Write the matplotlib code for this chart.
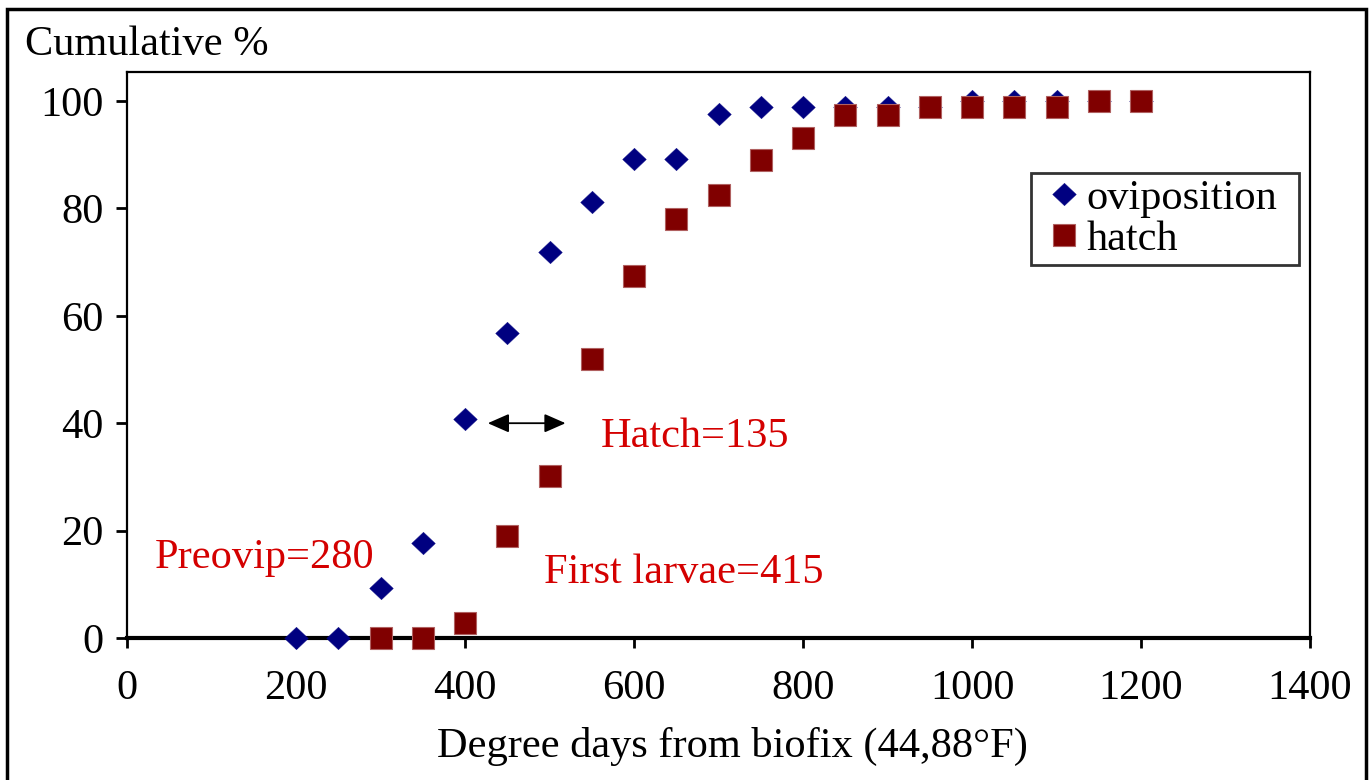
import matplotlib
matplotlib.use("Agg")
import matplotlib.pyplot as plt
from matplotlib.patches import Rectangle
from matplotlib.path import Path

plt.rcParams['font.family'] = ['Liberation Serif', 'DejaVu Serif']

# Data
ovi_x = [200, 250, 300, 350, 400, 450, 500, 550, 600, 650, 700, 750, 800, 850, 900, 950, 1000, 1050, 1100, 1150, 1200]
ovi_y = [0, 0, 9.3, 17.7, 40.8, 56.8, 71.9, 81.2, 89.2, 89.2, 97.6, 98.9, 98.9, 98.9, 98.9, 98.9, 100, 100, 100, 100, 100]
hatch_x = [300, 350, 400, 450, 500, 550, 600, 650, 700, 750, 800, 850, 900, 950, 1000, 1050, 1100, 1150, 1200]
hatch_y = [0, 0, 2.8, 19.0, 30.2, 52.0, 67.4, 78.0, 82.5, 89.0, 93.1, 97.4, 97.4, 98.9, 98.9, 98.9, 98.9, 100, 100]
series_labels = ["oviposition", "hatch"]
x_ticks = [0, 200, 400, 600, 800, 1000, 1200, 1400]
y_ticks = [0, 20, 40, 60, 80, 100]
x_label = "Degree days from biofix (44,88°F)"
y_label = "Cumulative %"
notes = ["Preovip=280", "First larvae=415", "Hatch=135"]

W, H = 1371, 780
FS = 30.5
fig = plt.figure(figsize=(W / 100, H / 100), dpi=100)
ax = fig.add_axes([127 / W, 1 - 638 / H, (1310 - 127) / W, (638 - 72) / H])

navy = '#000080'
maroon = '#800000'
red = '#d40000'

diamond = Path([(0, 0.95), (1, 0), (0, -0.95), (-1, 0), (0, 0.95)],
               [Path.MOVETO, Path.LINETO, Path.LINETO, Path.LINETO, Path.CLOSEPOLY])

ax.plot(ovi_x, ovi_y, linestyle='none', marker=diamond, markersize=17,
        color=navy, markeredgecolor=navy, markeredgewidth=0.3, clip_on=False,
        label=series_labels[0], zorder=3)
ax.plot(hatch_x, hatch_y, linestyle='none', marker='s', markersize=15.5,
        color=maroon, markeredgecolor='#b06060', markeredgewidth=0.8, clip_on=False,
        label=series_labels[1], zorder=4)

ax.set_xlim(0, 1400)
ax.set_ylim(0, 105.4)
ax.set_xticks(x_ticks)
ax.set_yticks(y_ticks)
ax.tick_params(axis='both', labelsize=FS, direction='out', width=2, colors='black')
ax.tick_params(axis='x', pad=16, length=7)
ax.tick_params(axis='y', pad=9, length=8)

for s in ['left', 'top', 'right']:
    ax.spines[s].set_linewidth(1.6)
ax.spines['bottom'].set_linewidth(3)

# annotations
ax.text(33, 13.0, notes[0], color=red, fontsize=FS, va='baseline', ha='left')
ax.text(493, 10.2, notes[1], color=red, fontsize=FS, va='baseline', ha='left')
ax.text(561, 35.6, notes[2], color=red, fontsize=FS, va='baseline', ha='left')
ax.annotate('', xy=(427, 40), xytext=(519, 40),
            arrowprops=dict(arrowstyle='<|-|>,head_length=0.5,head_width=0.22',
                            color='black', lw=1.3,
                            mutation_scale=26, shrinkA=0, shrinkB=0))

fig.text(25 / W, 1 - 55 / H, y_label, fontsize=FS, ha='left', va='baseline')
fig.text(437 / W, 1 - 757 / H, x_label, fontsize=FS, ha='left', va='baseline')

leg = ax.legend(loc='upper left',
                bbox_to_anchor=(1031 / W, 1 - 267 / H, (1299 - 1031) / W, 94 / H),
                bbox_transform=fig.transFigure, borderaxespad=0, mode='expand',
                fontsize=FS, frameon=True, fancybox=False, edgecolor='black',
                handlelength=1.25, handletextpad=-0.1, labelspacing=0.05,
                borderpad=0.15, markerscale=1.0)
leg.get_frame().set_linewidth(2)

fig.add_artist(Rectangle((7 / W, -0.02), (1366 - 7) / W, 1.02 - 9 / H,
                         transform=fig.transFigure, fill=False,
                         edgecolor='black', linewidth=2.5, clip_on=False))

fig.savefig('out.png', dpi=100)
